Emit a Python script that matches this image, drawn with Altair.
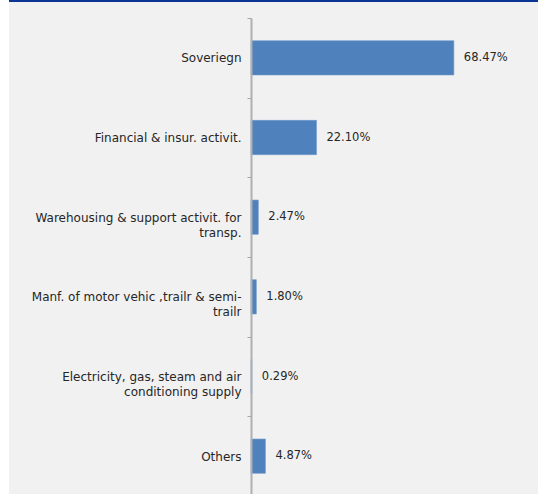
import altair as alt
import pandas as pd

categories = [
    "Soveriegn",
    "Financial & insur. activit.",
    "Warehousing & support activit. for|transp.",
    "Manf. of motor vehic ,trailr & semi-|trailr",
    "Electricity, gas, steam and air|conditioning supply",
    "Others",
]
shares = [68.47, 22.10, 2.47, 1.80, 0.29, 4.87]

df = pd.DataFrame({"sector": categories, "share": shares})

FONT = "DejaVu Sans"
W, H = 237, 478

bg = alt.Chart(alt.Data(values=[{}])).mark_rect(color="#f1f1f1").encode(
    x=alt.value(-242), x2=alt.value(W + 50), y=alt.value(-18), y2=alt.value(H + 20)
)
topline = alt.Chart(alt.Data(values=[{}])).mark_rect(color="#0a3595").encode(
    x=alt.value(-242), x2=alt.value(W + 50), y=alt.value(-18), y2=alt.value(-16)
)

base = alt.Chart(df).encode(
    y=alt.Y(
        "sector:N",
        sort=None,
        scale=alt.Scale(paddingInner=0, paddingOuter=0),
        axis=alt.Axis(
            title=None,
            labelExpr="split(datum.label, '|')",
            labelFont=FONT,
            labelFontSize=12,
            labelColor="#262626",
            labelPadding=6,
            labelLineHeight=15,
            labelLimit=300,
            tickBand="extent",
            tickSize=4,
            tickColor="#a6a6a6",
            domainColor="#b0b0b0",
            domainWidth=2,
            grid=False,
            zindex=1,
        ),
    ),
    x=alt.X("share:Q", scale=alt.Scale(domain=[0, 80]), axis=None),
)

bars = base.mark_bar(
    color="#4f81bd", stroke="#6f98cc", strokeWidth=0.6,
    height=alt.RelativeBandSize(0.43),
)
labels = base.transform_calculate(
    lbl="format(datum.share, '.2f') + '%'"
).mark_text(align="left", baseline="middle", dx=10, font=FONT, fontSize=11.5, color="#262626").encode(
    text="lbl:N"
)

chart = (
    alt.layer(bg, topline, bars, labels)
    .properties(
        width=W,
        height=H,
        background="white",
        padding={"left": 251, "top": 18, "right": 50, "bottom": 0},
        autosize=alt.AutoSizeParams(type="none"),
    )
    .configure_view(stroke=None)
)

chart.save("out.html", embed_options={"renderer": "svg", "actions": False})
